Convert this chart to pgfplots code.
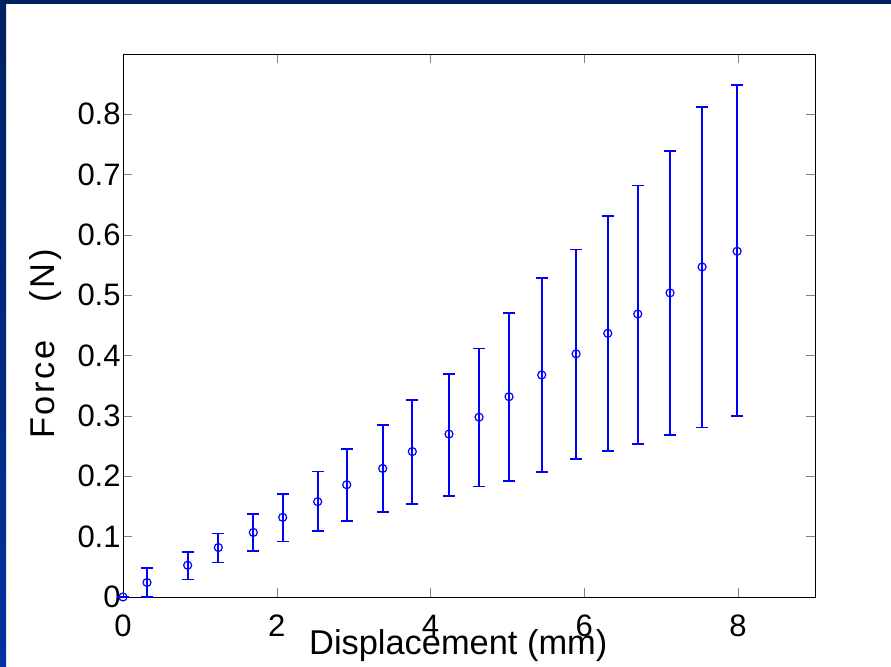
\documentclass[border=0pt]{standalone}
\usepackage{fontspec}
\setmainfont{Liberation Sans}
\newfontfamily\spaced[LetterSpace=8]{Liberation Sans}
\usepackage{pgfplots}
\pgfplotsset{compat=1.18}
\definecolor{SlideNavy}{HTML}{002060}
\definecolor{SlideBlue}{HTML}{0033A0}
\definecolor{MatBlue}{HTML}{0000FF}

\begin{document}
\begin{tikzpicture}
% slide background (1px = 0.5pt)
\path[use as bounding box,fill=white] (0,0) rectangle (445.5pt,333.5pt);
\shade[top color=SlideNavy,bottom color=SlideBlue] (0,0) rectangle (3pt,333.5pt);
\fill[SlideNavy] (0,331.5pt) rectangle (445.5pt,333.5pt);
\begin{axis}[
  at={(61.5pt,35pt)},anchor=south west,
  scale only axis,
  width=346pt,height=271.5pt,
  xmin=0,xmax=9,
  ymin=0,ymax=0.9,
  xtick={0,2,...,8},
  ytick={0,0.1,...,0.8},
  tick align=inside,
  clip=false,
  /pgf/number format/assume math mode=true,
  yticklabel style={/pgf/number format/fixed,font=\fontsize{15.5}{18}\selectfont,inner sep=1pt},
  xticklabel style={font=\fontsize{15.5}{18}\selectfont,anchor=base,yshift=-20pt},
  xlabel={Displacement (mm)},
  ylabel={\spaced Force\hspace{1.1em}(N)},
  xlabel style={font=\fontsize{17.2}{20}\selectfont,at={(axis description cs:0.4845,0)},anchor=base,yshift=-29pt},
  ylabel style={font=\fontsize{17.2}{20}\selectfont,at={(axis description cs:-0.0997,0.466)},anchor=base},
  error bars/error bar style={MatBlue,line width=0.85pt},
]
\addplot[MatBlue,line width=0.6pt,only marks,mark=o,mark size=2pt,
  error bars/.cd,y dir=both,y explicit,
  error mark options={MatBlue,rotate=90,mark size=3pt,line width=0.85pt}]
  coordinates {
  (0,0) +- (0,0)
  (0.312,0.024) += (0,0.024) -= (0,0.024)
  (0.841,0.0526) += (0,0.0214) -= (0,0.0236)
  (1.24,0.082) += (0,0.023) -= (0,0.025)
  (1.695,0.107) += (0,0.030) -= (0,0.031)
  (2.077,0.132) += (0,0.039) -= (0,0.040)
  (2.532,0.158) += (0,0.050) -= (0,0.049)
  (2.91,0.186) += (0,0.059) -= (0,0.060)
  (3.378,0.213) += (0,0.072) -= (0,0.072)
  (3.763,0.241) += (0,0.085) -= (0,0.087)
  (4.24,0.270) += (0,0.100) -= (0,0.103)
  (4.631,0.298) += (0,0.114) -= (0,0.115)
  (5.021,0.332) += (0,0.139) -= (0,0.140)
  (5.446,0.368) += (0,0.161) -= (0,0.161)
  (5.893,0.403) += (0,0.173) -= (0,0.174)
  (6.305,0.437) += (0,0.195) -= (0,0.195)
  (6.695,0.469) += (0,0.213) -= (0,0.216)
  (7.115,0.504) += (0,0.235) -= (0,0.235)
  (7.532,0.547) += (0,0.265) -= (0,0.266)
  (7.987,0.573) += (0,0.276) -= (0,0.273)
  };
\end{axis}
\end{tikzpicture}
\end{document}
